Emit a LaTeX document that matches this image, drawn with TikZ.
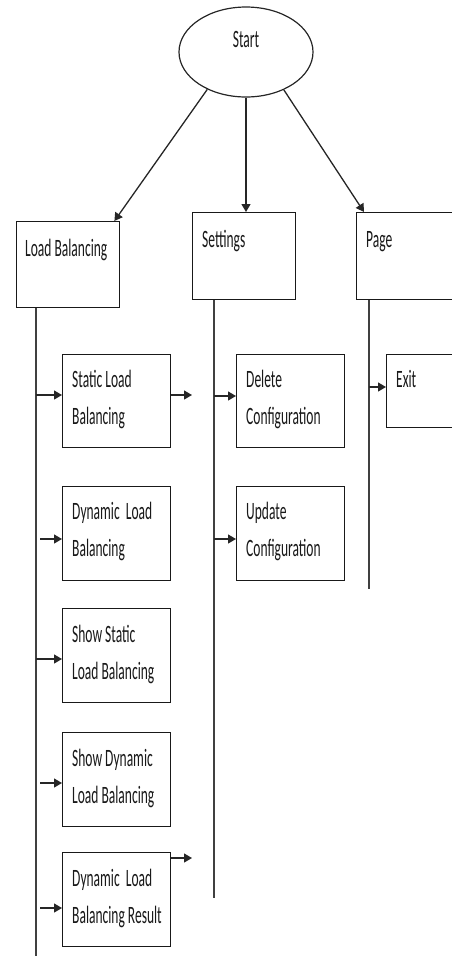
\documentclass[tikz,border=0pt]{standalone}
\usepackage{fontspec}
\setmainfont{Carlito}
\usepackage{graphicx}
\usetikzlibrary{shapes.geometric,arrows.meta,calc}
\newcommand\tx[1]{\scalebox{1}[1.85]{\fontsize{13.5}{20.5}\selectfont\begin{tabular}[t]{@{}l@{}}#1\end{tabular}}}
\begin{document}
\begin{tikzpicture}[x=1pt,y=-1pt,
  box/.style={draw=black!90, line width=1.4pt, inner sep=0pt, anchor=north west, minimum width=#1},
  box/.default=108pt,
  lbl/.style={anchor=base west, inner sep=0pt, text=black!90},
  conn/.style={draw=black!85, line width=1.3pt},
  arr/.style={conn, -{Triangle[length=8pt,width=9pt]}},
  vline/.style={draw=black!75, line width=1.1pt}]
\useasboundingbox (0,0) rectangle (452,956);
% start
\node[ellipse, draw=black!85, line width=1.2pt, minimum width=134pt, minimum height=90pt, inner sep=0pt] (start) at (246,52) {};
\node[anchor=base, inner sep=0pt, text=black!90] (startt) at (246,47) {\tx{Start}};
% top boxes
\node[box=103pt, minimum height=86pt] (lb) at (16,221) {};
\node[box=103pt, minimum height=87pt] (set) at (192,212) {};
\node[box=103pt, minimum height=87pt] (page) at (356,212) {};
\node[lbl] (lbt) at ($(lb.north west)+(9,35)$) {\tx{Load Balancing}};
\node[lbl] (sett) at ($(set.north west)+(10,35)$) {\tx{Settings}};
\node[lbl] (paget) at ($(page.north west)+(10,35)$) {\tx{Page}};
% arrows from start
\draw[arr] (start.224) -- ($(lb.north east)+(-6,0)$);
\draw[arr] (start.south) -- (start.south |- set.north);
\draw[arr] (start.-45) -- ($(page.north west)+(8,0)$);
% vertical lines
\coordinate (lbend) at (36,956);
\coordinate (setend) at (214,898);
\coordinate (pageend) at (369,589);
\draw[vline] (lbend |- lb.south) -- (lbend);
\draw[vline] (setend |- set.south) -- (setend);
\draw[vline] (pageend |- page.south) -- (pageend);
% sub boxes (load balancing)
\node[box, minimum height=93pt] (slb) at (62,354) {};
\node[box, minimum height=94pt] (dlb) at (62,486) {};
\node[box, minimum height=94pt] (sslb) at (62,608) {};
\node[box, minimum height=94pt] (sdlb) at (62,732) {};
\node[box, minimum height=94pt] (dlbr) at (62,852) {};
\node[lbl] (slbt) at ($(slb.north west)+(10,33)$) {\tx{Static Load\\Balancing}};
\node[lbl] (dlbt) at ($(dlb.north west)+(10,33)$) {\tx{Dynamic\ \ Load\\Balancing}};
\node[lbl] (sslbt) at ($(sslb.north west)+(10,34)$) {\tx{Show Static\\Load Balancing}};
\node[lbl] (sdlbt) at ($(sdlb.north west)+(10,34)$) {\tx{Show Dynamic\\Load Balancing}};
\node[lbl] (dlbrt) at ($(dlbr.north west)+(10,34)$) {\tx{Dynamic\ \ Load\\Balancing Result}};
% sub boxes (settings)
\node[box, minimum height=93pt] (del) at (236,354) {};
\node[box, minimum height=94pt] (upd) at (236,486) {};
\node[lbl] (delt) at ($(del.north west)+(10,33)$) {\tx{Delete\\Configuration}};
\node[lbl] (updt) at ($(upd.north west)+(10,33)$) {\tx{Update\\Configuration}};
% exit
\node[box=103pt, minimum height=73pt] (exit) at (386,354) {};
\node[lbl] (exitt) at ($(exit.north west)+(10,33)$) {\tx{Exit}};
% branch arrows
\coordinate (a1) at (36,395);
\coordinate (a2) at (40,539);
\coordinate (a3) at (36,659);
\coordinate (a4) at (40,783);
\coordinate (a5) at (40,908);
\draw[arr] (a1) -- (a1 -| slb.west);
\draw[arr] (a2) -- (a2 -| dlb.west);
\draw[arr] (a3) -- (a3 -| sslb.west);
\draw[arr] (a4) -- (a4 -| sdlb.west);
\draw[arr] (a5) -- (a5 -| dlbr.west);
\coordinate (b1) at (214,396);
\coordinate (b2) at (214,539);
\draw[arr] (b1) -- (b1 -| del.west);
\draw[arr] (b2) -- (b2 -| upd.west);
\coordinate (c1) at (369,387);
\draw[arr] (c1) -- (c1 -| exit.west);
% outgoing arrows
\coordinate (o1) at (192,395);
\coordinate (o2) at (192,858);
\draw[arr] (o1 -| slb.east) -- (o1);
\draw[arr] (o2 -| dlbr.east) -- (o2);
\end{tikzpicture}
\end{document}
